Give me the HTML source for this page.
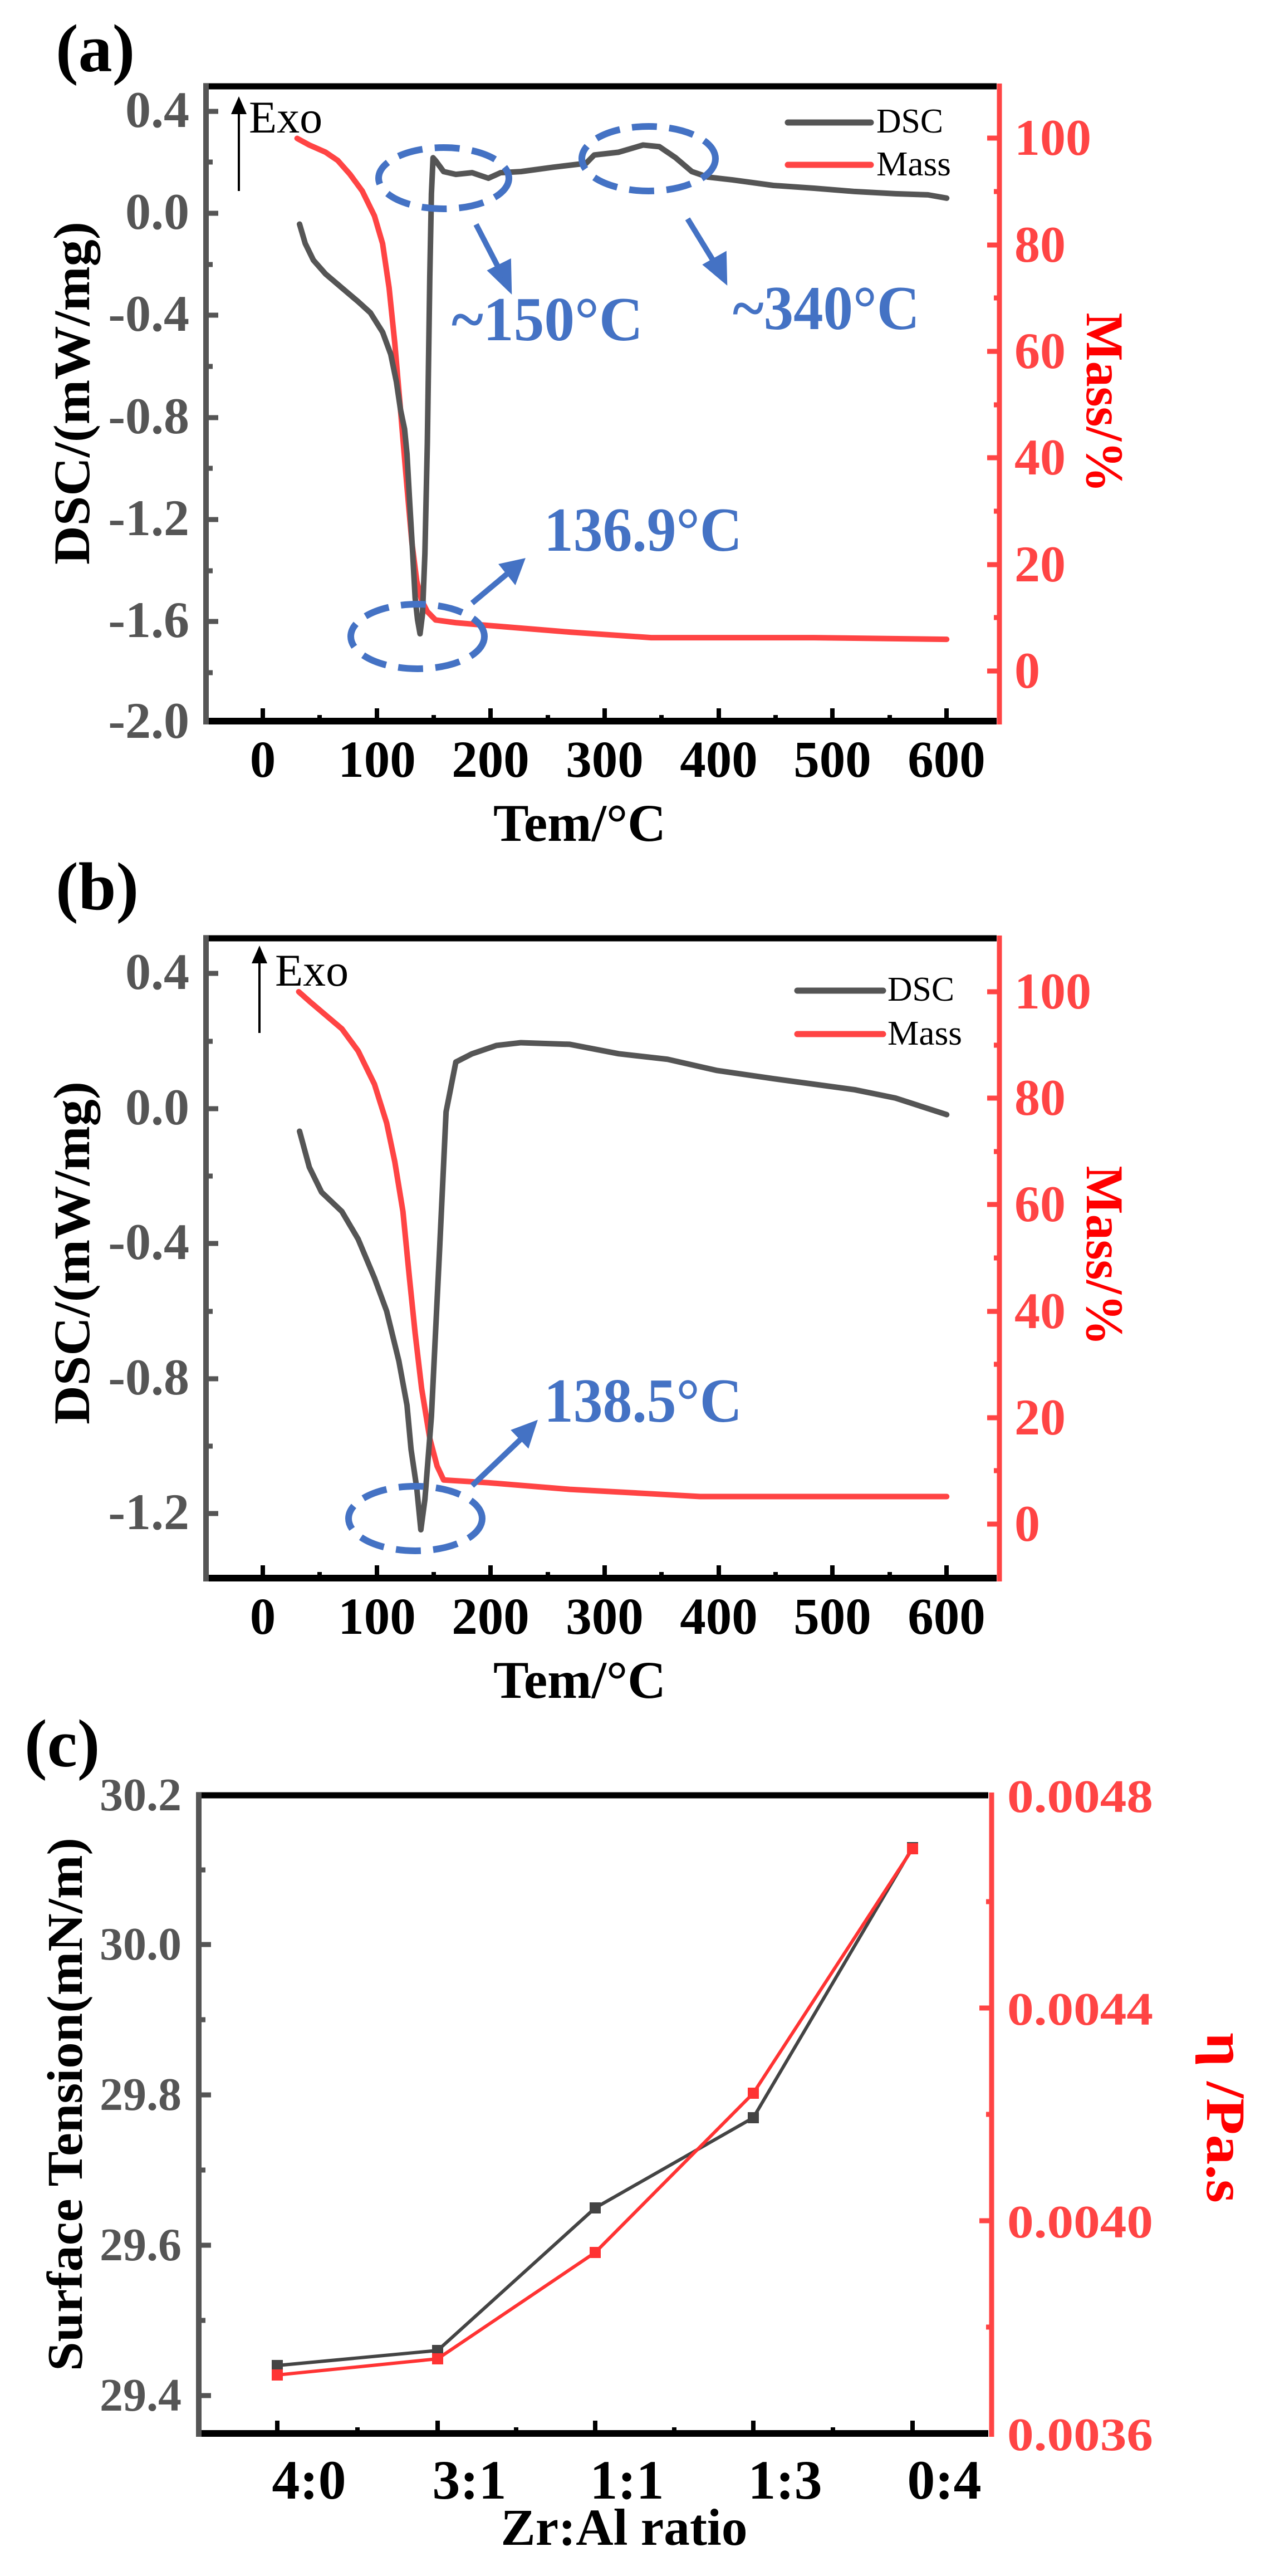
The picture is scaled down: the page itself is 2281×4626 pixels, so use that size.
<!DOCTYPE html>
<html><head><meta charset="utf-8"><style>html,body{margin:0;padding:0;background:#fff}svg{display:block}svg text{font-family:"Liberation Serif","Times New Roman",serif}</style></head>
<body>
<svg width="2281" height="4626" viewBox="0 0 2281 4626" xmlns="http://www.w3.org/2000/svg" style="font-family:'Liberation Serif',serif">
<!-- ================= (a) ================= -->
<text x="100" y="128" font-size="122" font-weight="bold">(a)</text>
<g stroke-linecap="butt">
<line x1="365" y1="155" x2="1790" y2="155" stroke="#000" stroke-width="11"/>
<line x1="365" y1="1295" x2="1790" y2="1295" stroke="#000" stroke-width="12"/>
<line x1="370" y1="150" x2="370" y2="1301" stroke="#555" stroke-width="10"/>
<line x1="1795" y1="150" x2="1795" y2="1301" stroke="#f44" stroke-width="9"/>
<path stroke="#555" stroke-width="9" d="M370 200H392M370 383H392M370 566H392M370 750H392M370 933H392M370 1116H392M370 291H382M370 475H382M370 658H382M370 841H382M370 1025H382M370 1208H382"/>
<path stroke="#f44" stroke-width="9" d="M1795 248H1773M1795 440H1773M1795 631H1773M1795 822H1773M1795 1014H1773M1795 1205H1773M1795 344H1785M1795 535H1785M1795 727H1785M1795 918H1785M1795 1109H1785"/>
<path stroke="#000" stroke-width="8" d="M472 1295V1272M677 1295V1272M881 1295V1272M1086 1295V1272M1291 1295V1272M1495 1295V1272M1700 1295V1272M574 1295V1284M779 1295V1284M984 1295V1284M1188 1295V1284M1393 1295V1284M1598 1295V1284"/>
</g>
<g font-size="92" font-weight="bold" fill="#555" text-anchor="end">
<text x="340" y="228">0.4</text><text x="340" y="411">0.0</text><text x="340" y="594">-0.4</text><text x="340" y="778">-0.8</text><text x="340" y="961">-1.2</text><text x="340" y="1144">-1.6</text><text x="340" y="1325">-2.0</text>
</g>
<g font-size="92" font-weight="bold" fill="#f44">
<text x="1822" y="278">100</text><text x="1822" y="470">80</text><text x="1822" y="661">60</text><text x="1822" y="852">40</text><text x="1822" y="1044">20</text><text x="1822" y="1235">0</text>
</g>
<g font-size="93" font-weight="bold" fill="#000" text-anchor="middle">
<text x="472" y="1395">0</text><text x="677" y="1395">100</text><text x="881" y="1395">200</text><text x="1086" y="1395">300</text><text x="1291" y="1395">400</text><text x="1495" y="1395">500</text><text x="1700" y="1395">600</text>
</g>
<text x="1041" y="1510" font-size="95" font-weight="bold" text-anchor="middle" textLength="310" lengthAdjust="spacingAndGlyphs">Tem/°C</text>
<text transform="translate(160,706) rotate(-90)" font-size="92" font-weight="bold" text-anchor="middle" textLength="616" lengthAdjust="spacingAndGlyphs">DSC/(mW/mg)</text>
<text transform="translate(1952,723) rotate(90)" font-size="95" font-weight="bold" fill="#f00" text-anchor="middle" textLength="323" lengthAdjust="spacingAndGlyphs">Mass/%</text>
<line x1="429" y1="343" x2="429" y2="200" stroke="#000" stroke-width="4"/>
<polygon points="429,173 415,205 443,205" fill="#000"/>
<text x="447" y="238" font-size="82">Exo</text>
<line x1="1415" y1="220" x2="1564" y2="220" stroke="#555" stroke-width="11" stroke-linecap="round"/>
<text x="1574" y="238" font-size="62" textLength="120" lengthAdjust="spacingAndGlyphs">DSC</text>
<line x1="1415" y1="296" x2="1564" y2="296" stroke="#f44" stroke-width="11" stroke-linecap="round"/>
<text x="1574" y="315" font-size="62" textLength="134" lengthAdjust="spacingAndGlyphs">Mass</text>
<g transform="scale(1.462,0.994)" fill="none" stroke-linejoin="round" stroke-linecap="round">
<polyline vector-effect="non-scaling-stroke" stroke="#f44" stroke-width="10" points="365,250 380,262 400,275 415,290 430,315 445,345 460,390 470,440 478,520 485,620 492,740 500,880 506,980 512,1050 518,1085 525,1105 535,1120 560,1125 600,1130 700,1142 800,1152 1000,1152 1163,1155"/>
<polyline vector-effect="non-scaling-stroke" stroke="#555" stroke-width="10" points="368,405 375,440 385,470 400,495 420,520 440,545 455,565 470,600 480,640 487,690 492,740 497,775 500,820 503,900 507,1000 510,1080 513,1120 516,1145 519,1110 522,1000 525,800 528,500 530,350 532,285 535,290 545,310 560,315 580,312 600,322 615,312 640,310 680,302 720,295 730,280 760,275 790,262 810,265 830,285 850,310 870,320 900,325 950,335 1000,340 1050,346 1100,350 1140,352 1163,358"/>
</g>
<g fill="none" stroke="#4472C4" stroke-width="12" stroke-dasharray="45,22">
<ellipse cx="797" cy="320" rx="117" ry="55"/>
<ellipse cx="1165" cy="285" rx="120" ry="58"/>
<ellipse cx="750" cy="1143" rx="120" ry="58"/>
</g>
<g stroke="#4472C4" stroke-width="10" fill="#4472C4">
<line x1="855" y1="403" x2="900" y2="490"/><polygon points="914,517 883,487 913,472"/>
<line x1="1235" y1="393" x2="1287" y2="478"/><polygon points="1301,502 1270,476 1300,459"/>
<line x1="848" y1="1083" x2="915" y2="1027"/><polygon points="936,1009 904,1016 924,1041"/>
</g>
<g font-size="112" font-weight="bold" fill="#4472C4">
<text x="811" y="611" textLength="344" lengthAdjust="spacingAndGlyphs">~150°C</text>
<text x="1316" y="591" textLength="336" lengthAdjust="spacingAndGlyphs">~340°C</text>
<text x="977" y="989" textLength="356" lengthAdjust="spacingAndGlyphs">136.9°C</text>
</g>

<!-- ================= (b) ================= -->
<text x="100" y="1633" font-size="122" font-weight="bold">(b)</text>
<line x1="365" y1="1685" x2="1790" y2="1685" stroke="#000" stroke-width="11"/>
<line x1="365" y1="2834" x2="1790" y2="2834" stroke="#000" stroke-width="12"/>
<line x1="370" y1="1680" x2="370" y2="2840" stroke="#555" stroke-width="10"/>
<line x1="1795" y1="1680" x2="1795" y2="2840" stroke="#f44" stroke-width="9"/>
<path stroke="#555" stroke-width="9" d="M370 1748H392M370 1991H392M370 2233H392M370 2476H392M370 2718H392M370 1870H382M370 2112H382M370 2355H382M370 2597H382"/>
<path stroke="#f44" stroke-width="9" d="M1795 1781H1773M1795 1972H1773M1795 2163H1773M1795 2355H1773M1795 2546H1773M1795 2737H1773M1795 1877H1785M1795 2068H1785M1795 2259H1785M1795 2450H1785M1795 2641H1785"/>
<path stroke="#000" stroke-width="8" d="M472 2834V2811M677 2834V2811M881 2834V2811M1086 2834V2811M1291 2834V2811M1495 2834V2811M1700 2834V2811M574 2834V2823M779 2834V2823M984 2834V2823M1188 2834V2823M1393 2834V2823M1598 2834V2823"/>
<g font-size="92" font-weight="bold" fill="#555" text-anchor="end">
<text x="340" y="1776">0.4</text><text x="340" y="2019">0.0</text><text x="340" y="2261">-0.4</text><text x="340" y="2504">-0.8</text><text x="340" y="2746">-1.2</text>
</g>
<g font-size="92" font-weight="bold" fill="#f44">
<text x="1822" y="1811">100</text><text x="1822" y="2002">80</text><text x="1822" y="2193">60</text><text x="1822" y="2385">40</text><text x="1822" y="2576">20</text><text x="1822" y="2767">0</text>
</g>
<g font-size="93" font-weight="bold" fill="#000" text-anchor="middle">
<text x="472" y="2934">0</text><text x="677" y="2934">100</text><text x="881" y="2934">200</text><text x="1086" y="2934">300</text><text x="1291" y="2934">400</text><text x="1495" y="2934">500</text><text x="1700" y="2934">600</text>
</g>
<text x="1041" y="3049" font-size="95" font-weight="bold" text-anchor="middle" textLength="310" lengthAdjust="spacingAndGlyphs">Tem/°C</text>
<text transform="translate(160,2250) rotate(-90)" font-size="92" font-weight="bold" text-anchor="middle" textLength="616" lengthAdjust="spacingAndGlyphs">DSC/(mW/mg)</text>
<text transform="translate(1952,2255) rotate(90)" font-size="95" font-weight="bold" fill="#f00" text-anchor="middle" textLength="323" lengthAdjust="spacingAndGlyphs">Mass/%</text>
<line x1="466" y1="1855" x2="466" y2="1725" stroke="#000" stroke-width="4"/>
<polygon points="466,1698 452,1730 480,1730" fill="#000"/>
<text x="494" y="1770" font-size="82">Exo</text>
<line x1="1432" y1="1779" x2="1586" y2="1779" stroke="#555" stroke-width="11" stroke-linecap="round"/>
<text x="1594" y="1797" font-size="62" textLength="120" lengthAdjust="spacingAndGlyphs">DSC</text>
<line x1="1432" y1="1857" x2="1586" y2="1857" stroke="#f44" stroke-width="11" stroke-linecap="round"/>
<text x="1594" y="1876" font-size="62" textLength="134" lengthAdjust="spacingAndGlyphs">Mass</text>
<g transform="translate(0,1450) scale(1.462,0.994)" fill="none" stroke-linejoin="round" stroke-linecap="round">
<polyline vector-effect="non-scaling-stroke" stroke="#f44" stroke-width="10" points="367,333 380,350 400,375 420,400 440,440 460,500 475,570 485,640 495,730 503,850 510,950 518,1050 528,1140 537,1190 545,1215 600,1220 700,1232 800,1240 860,1245 1163,1245"/>
<polyline vector-effect="non-scaling-stroke" stroke="#555" stroke-width="10" points="368,585 380,650 395,695 420,730 440,780 460,850 475,910 490,1000 500,1080 505,1160 512,1230 517,1305 522,1250 530,1100 540,800 548,550 560,460 580,445 610,430 640,425 700,428 760,445 820,455 880,475 950,490 1050,510 1100,525 1163,555"/>
</g>
<ellipse cx="746" cy="2727" rx="120" ry="58" fill="none" stroke="#4472C4" stroke-width="12" stroke-dasharray="45,22"/>
<g stroke="#4472C4" stroke-width="10" fill="#4472C4">
<line x1="848" y1="2668" x2="940" y2="2580"/><polygon points="958,2558 926,2570 947,2592"/>
</g>
<text x="977" y="2553" font-size="112" font-weight="bold" fill="#4472C4" textLength="356" lengthAdjust="spacingAndGlyphs">138.5°C</text>

<!-- ================= (c) ================= -->
<text x="44" y="3172" font-size="122" font-weight="bold">(c)</text>
<line x1="352" y1="3224" x2="1775" y2="3224" stroke="#000" stroke-width="11"/>
<line x1="352" y1="4370" x2="1775" y2="4370" stroke="#000" stroke-width="12"/>
<line x1="357" y1="3219" x2="357" y2="4376" stroke="#555" stroke-width="10"/>
<line x1="1781" y1="3219" x2="1781" y2="4376" stroke="#f44" stroke-width="9"/>
<path stroke="#555" stroke-width="9" d="M357 3492H379M357 3762H379M357 4032H379M357 4302H379M357 3358H369M357 3627H369M357 3897H369M357 4167H369"/>
<path stroke="#f44" stroke-width="9" d="M1781 3606H1759M1781 3988H1759M1781 3415H1771M1781 3797H1771M1781 4179H1771"/>
<path stroke="#000" stroke-width="8" d="M498 4370V4347M786 4370V4347M1069 4370V4347M1353 4370V4347M1639 4370V4347M642 4370V4359M927 4370V4359M1211 4370V4359M1496 4370V4359"/>
<g font-size="84" font-weight="bold" fill="#555" text-anchor="end">
<text x="326" y="3251">30.2</text><text x="326" y="3519">30.0</text><text x="326" y="3789">29.8</text><text x="326" y="4059">29.6</text><text x="326" y="4329">29.4</text>
</g>
<g font-size="84" font-weight="bold" fill="#f44">
<text x="1809" y="3254" textLength="262" lengthAdjust="spacingAndGlyphs">0.0048</text><text x="1809" y="3636" textLength="262" lengthAdjust="spacingAndGlyphs">0.0044</text><text x="1809" y="4018" textLength="262" lengthAdjust="spacingAndGlyphs">0.0040</text><text x="1809" y="4400" textLength="262" lengthAdjust="spacingAndGlyphs">0.0036</text>
</g>
<g font-size="100" font-weight="bold" fill="#000" text-anchor="middle">
<text x="555" y="4487">4:0</text><text x="843" y="4487">3:1</text><text x="1126" y="4487">1:1</text><text x="1410" y="4487">1:3</text><text x="1696" y="4487">0:4</text>
</g>
<text x="1121" y="4570" font-size="93" font-weight="bold" text-anchor="middle" textLength="443" lengthAdjust="spacingAndGlyphs">Zr:Al ratio</text>
<text transform="translate(147,3779) rotate(-90)" font-size="90" font-weight="bold" text-anchor="middle" textLength="958" lengthAdjust="spacingAndGlyphs">Surface Tension(mN/m)</text>
<text transform="translate(2168,3803) rotate(90)" font-size="100" font-weight="bold" fill="#f00" text-anchor="middle" textLength="306" lengthAdjust="spacingAndGlyphs">η /Pa.s</text>
<polyline fill="none" stroke="#444" stroke-width="6" points="498,4248 786,4221 1069,3965 1353,3803 1639,3318"/>
<polyline fill="none" stroke="#f33" stroke-width="6" points="498,4265 786,4236 1069,4045 1353,3759 1639,3320"/>
<g fill="#444">
<rect x="488" y="4238" width="20" height="20"/><rect x="776" y="4211" width="20" height="20"/><rect x="1059" y="3955" width="20" height="20"/><rect x="1343" y="3793" width="20" height="20"/><rect x="1629" y="3308" width="20" height="20"/>
</g>
<g fill="#f33">
<rect x="488" y="4255" width="20" height="20"/><rect x="776" y="4226" width="20" height="20"/><rect x="1059" y="4035" width="20" height="20"/><rect x="1343" y="3749" width="20" height="20"/><rect x="1629" y="3310" width="20" height="20"/>
</g>
</svg>
</body></html>
